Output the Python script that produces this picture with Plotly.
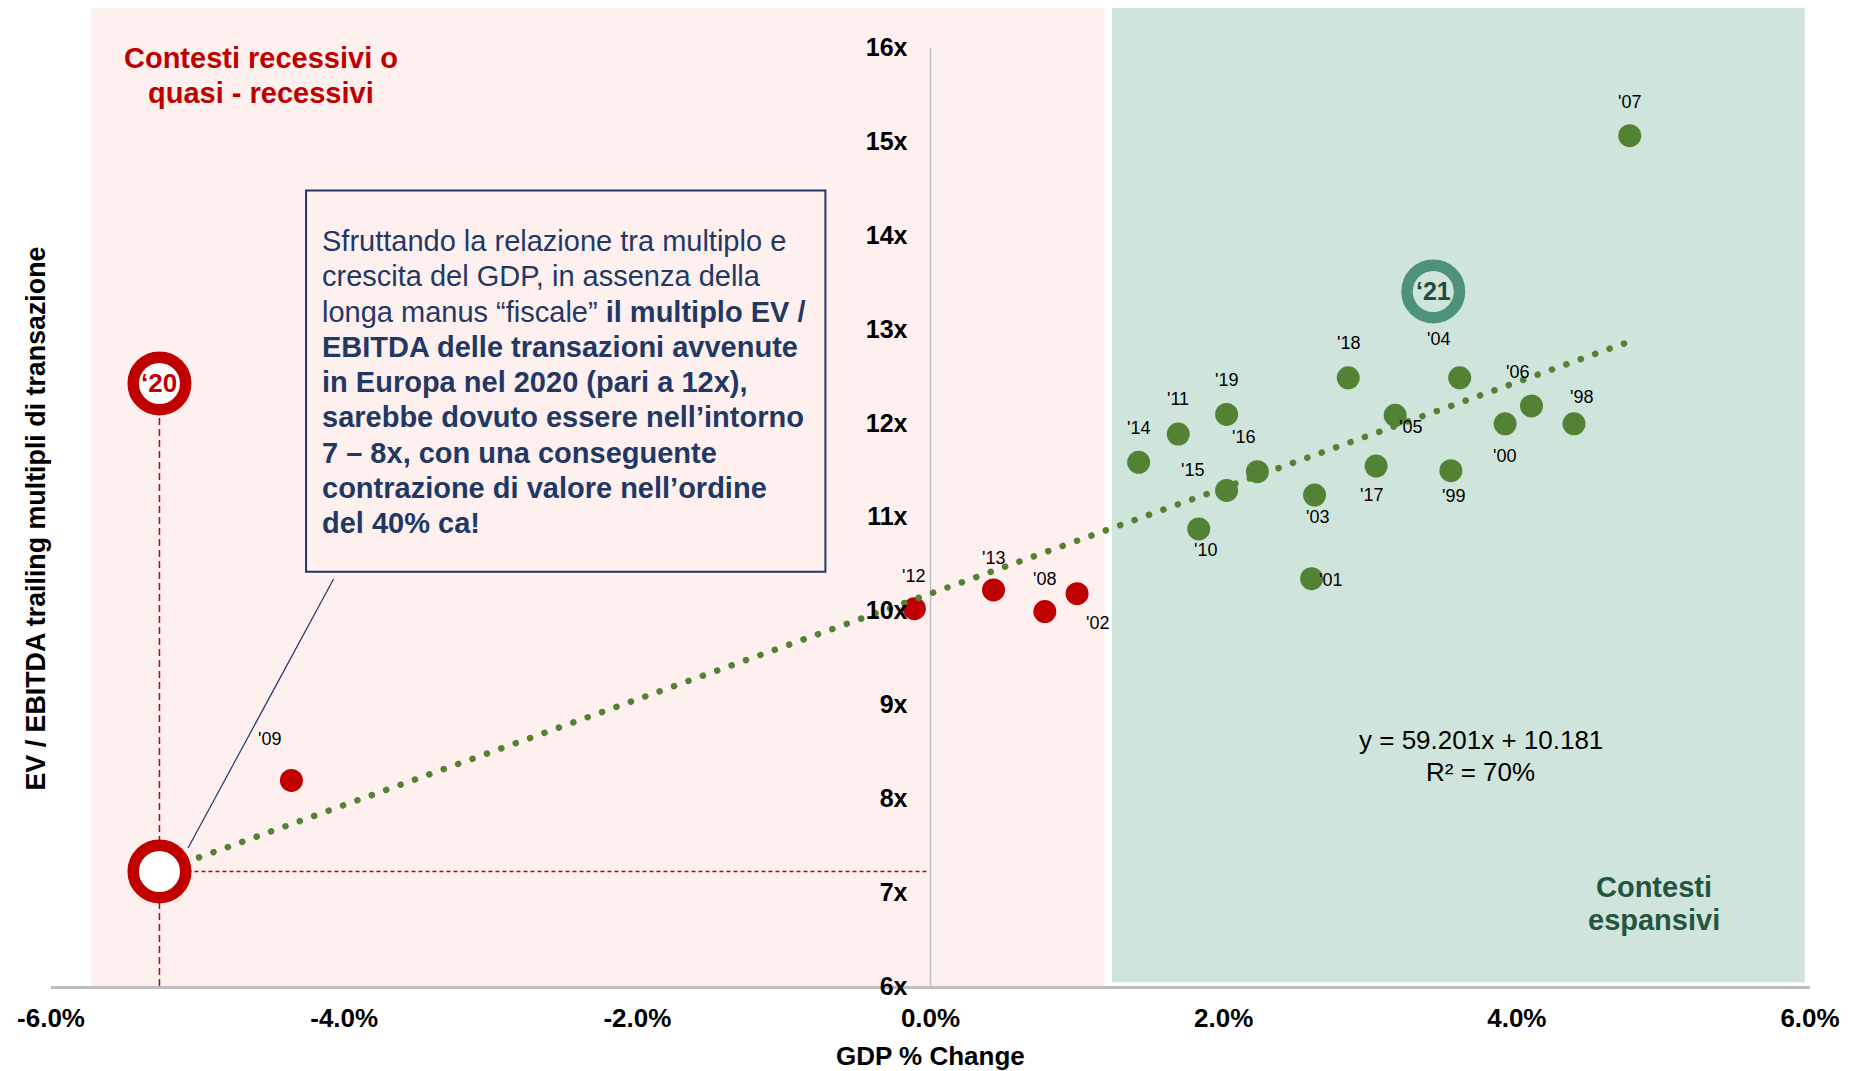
import plotly.graph_objects as go

# ---------------- DATA ----------------
red_years = ["'09", "'12", "'13", "'08", "'02"]
red_gdp = [-4.36, -0.11, 0.43, 0.78, 1.00]
red_mult = [8.19, 10.02, 10.22, 9.99, 10.18]

green_years = ["'14", "'11", "'19", "'15", "'16", "'10", "'18", "'03", "'01",
               "'17", "'05", "'04", "'99", "'00", "'06", "'98", "'07"]
green_gdp = [1.42, 1.69, 2.02, 2.02, 2.23, 1.83, 2.85, 2.62, 2.60,
             3.04, 3.17, 3.61, 3.55, 3.92, 4.10, 4.39, 4.77]
green_mult = [11.58, 11.88, 12.09, 11.28, 11.48, 10.87, 12.48, 11.23, 10.34,
              11.54, 12.08, 12.48, 11.49, 11.99, 12.18, 11.99, 15.06]

y2020_gdp = [-5.26]
y2020_actual = [12.42]
y2020_implied = [7.22]
y2021_gdp = [3.43]
y2021_mult = [13.40]

trend_gdp = [-4.99, 4.74]
trend_mult = [7.37, 12.85]

x_tickvals = [-6, -4, -2, 0, 2, 4, 6]
x_ticktext = ["-6.0%", "-4.0%", "-2.0%", "0.0%", "2.0%", "4.0%", "6.0%"]
y_tickvals = [6, 7, 8, 9, 10, 11, 12, 13, 14, 15, 16]
y_ticktext = ["6x", "7x", "8x", "9x", "10x", "11x", "12x", "13x", "14x", "15x", "16x"]

equation_lines = ["y = 59.201x + 10.181", "R² = 70%"]
box_lines = [
    "Sfruttando la relazione tra multiplo e",
    "crescita del GDP, in assenza della",
    "longa manus “fiscale” <b>il multiplo EV /</b>",
    "<b>EBITDA delle transazioni avvenute</b>",
    "<b>in Europa nel 2020 (pari a 12x),</b>",
    "<b>sarebbe dovuto essere nell’intorno</b>",
    "<b>7 – 8x, con una conseguente</b>",
    "<b>contrazione di valore nell’ordine</b>",
    "<b>del 40% ca!</b>",
]

# ---------------- STYLE ----------------
FONT = "Liberation Sans, Arial, sans-serif"
RED = "#C00000"
GREEN = "#548235"
TEAL = "#4E9279"
NAVY = "#1F3864"
PINK_BG = "#FFF0F0"
GREEN_BG = "#CFE5DC"
AXIS_GRAY = "#BFBFBF"

# label offsets in px (dx right, dy down)
label_offsets = {
    "'14": (0, -34), "'11": (0, -35), "'19": (0, -34), "'15": (-34, -20),
    "'16": (-14, -35), "'10": (7, 21), "'18": (0, -35), "'03": (3, 22),
    "'01": (19, 1), "'17": (-5, 29), "'05": (15, 12), "'04": (-21, -39),
    "'99": (3, 25), "'00": (-1, 32), "'06": (-14, -34), "'98": (7, -27),
    "'07": (0, -34),
    "'09": (-22, -41), "'12": (-1, -33), "'13": (0, -32), "'08": (0, -33),
    "'02": (20, 29),
}

Y0, Y1 = 6, 16.42
PX_PER_Y = 93.86
PLOT_BOTTOM = 986


def ypx(p):
    return Y0 + (PLOT_BOTTOM - p) / PX_PER_Y


def xpx(p):
    return (p - 930.5) / 146.6


fig = go.Figure()

# points
fig.add_trace(go.Scatter(x=red_gdp, y=red_mult, mode="markers",
                         marker=dict(size=23, color=RED, line=dict(width=0)),
                         hoverinfo="skip", showlegend=False))
fig.add_trace(go.Scatter(x=green_gdp, y=green_mult, mode="markers",
                         marker=dict(size=23, color=GREEN, line=dict(width=0)),
                         hoverinfo="skip", showlegend=False))
# 2020 circles
fig.add_trace(go.Scatter(x=y2020_gdp, y=y2020_actual, mode="markers",
                         marker=dict(size=52.5, color="white", line=dict(width=11.5, color=RED)),
                         hoverinfo="skip", showlegend=False))
fig.add_trace(go.Scatter(x=y2020_gdp, y=y2020_implied, mode="markers",
                         marker=dict(size=52.5, color="white", line=dict(width=11.5, color=RED)),
                         hoverinfo="skip", showlegend=False))
# 2021 circle
fig.add_trace(go.Scatter(x=y2021_gdp, y=y2021_mult, mode="markers",
                         marker=dict(size=52.5, color=GREEN_BG, line=dict(width=11.5, color=TEAL)),
                         hoverinfo="skip", showlegend=False))
# trendline (dotted)
fig.add_trace(go.Scatter(x=trend_gdp, y=trend_mult, mode="lines",
                         line=dict(color=GREEN, width=6.5, dash="6px,9px"),
                         hoverinfo="skip", showlegend=False))

shapes = [
    dict(type="rect", xref="x", yref="y", x0=-5.727, x1=1.187, y0=6.0, y1=Y1,
         fillcolor=PINK_BG, line=dict(width=0), layer="below"),
    dict(type="rect", xref="x", yref="y", x0=1.238, x1=5.965, y0=6.04, y1=Y1,
         fillcolor=GREEN_BG, line=dict(width=0), layer="below"),
    # vertical axis line at 0
    dict(type="line", xref="x", yref="y", x0=0, x1=0, y0=6, y1=16,
         line=dict(color=AXIS_GRAY, width=1.5), layer="below"),
    # dashed guides for 2020
    dict(type="line", xref="x", yref="y", x0=y2020_gdp[0], x1=y2020_gdp[0],
         y0=6, y1=y2020_actual[0], line=dict(color=RED, width=1.5, dash="7px,4px"), layer="below"),
    dict(type="line", xref="x", yref="y", x0=y2020_gdp[0], x1=-0.02,
         y0=y2020_implied[0], y1=y2020_implied[0],
         line=dict(color=RED, width=1.5, dash="4px,3px"), layer="below"),
    # text box
    dict(type="rect", xref="x", yref="y", x0=xpx(306), x1=xpx(825.4), y0=ypx(571.8), y1=ypx(190.5),
         fillcolor=PINK_BG, line=dict(color=NAVY, width=2), layer="below"),
    # connector
    dict(type="line", xref="x", yref="y", x0=xpx(333.5), y0=ypx(579), x1=xpx(188), y1=ypx(848),
         line=dict(color=NAVY, width=1.2), layer="below"),
]

annotations = []
for yrs, xs, ys in [(red_years, red_gdp, red_mult), (green_years, green_gdp, green_mult)]:
    for t, xv, yv in zip(yrs, xs, ys):
        dx, dy = label_offsets[t]
        annotations.append(dict(x=xv, y=yv, xref="x", yref="y", text=t, showarrow=False,
                                xshift=dx, yshift=-dy, xanchor="center", yanchor="middle",
                                font=dict(family=FONT, size=18, color="black")))

annotations.append(dict(x=y2020_gdp[0], y=y2020_actual[0], text="<b>‘20</b>", showarrow=False,
                        font=dict(family=FONT, size=26, color=RED), xanchor="center", yanchor="middle"))
annotations.append(dict(x=y2021_gdp[0], y=y2021_mult[0], text="<b>‘21</b>", showarrow=False,
                        font=dict(family=FONT, size=25, color="#1E4D3A"), xanchor="center", yanchor="middle"))

# text box lines
for i, line in enumerate(box_lines):
    annotations.append(dict(x=xpx(320), y=ypx(241 + 35.25 * i), text=line, showarrow=False,
                            xanchor="left", yanchor="middle",
                            font=dict(family=FONT, size=29, color=NAVY)))

# region labels
for i, line in enumerate(["Contesti recessivi o", "quasi - recessivi"]):
    annotations.append(dict(x=xpx(260.6), y=ypx(57.8 + 35.3 * i), text="<b>" + line + "</b>",
                            showarrow=False, xanchor="center", yanchor="middle",
                            font=dict(family=FONT, size=29, color=RED)))
for i, line in enumerate(["Contesti", "espansivi"]):
    annotations.append(dict(x=xpx(1654.5), y=ypx(887 + 33 * i), text="<b>" + line + "</b>",
                            showarrow=False, xanchor="center", yanchor="middle",
                            font=dict(family=FONT, size=29, color="#23553F")))
for i, line in enumerate(equation_lines):
    annotations.append(dict(x=xpx(1481), y=ypx(740 + 32 * i), text=line,
                            showarrow=False, xanchor="center", yanchor="middle",
                            font=dict(family=FONT, size=26, color="black")))

# axis titles
annotations.append(dict(x=0, xref="x", y=(PLOT_BOTTOM - 1056) / 978, yref="paper",
                        text="<b>GDP % Change</b>", showarrow=False, xanchor="center", yanchor="middle",
                        font=dict(family=FONT, size=26, color="black")))
annotations.append(dict(x=(35.5 - 51) / 1759, xref="paper", y=(PLOT_BOTTOM - 519) / 978, yref="paper",
                        text="<b>EV / EBITDA trailing multipli di transazione</b>", showarrow=False,
                        textangle=-90, xanchor="center", yanchor="middle",
                        font=dict(family=FONT, size=26.8, color="black")))

fig.update_layout(
    width=1849, height=1071,
    margin=dict(l=51, r=39, t=8, b=85),
    paper_bgcolor="white", plot_bgcolor="white",
    showlegend=False,
    shapes=shapes,
    annotations=annotations,
    xaxis=dict(range=[-6, 6], tickvals=x_tickvals, ticktext=x_ticktext,
               showgrid=False, zeroline=False, showline=True, linecolor=AXIS_GRAY, linewidth=2.5,
               ticks="", ticklabelstandoff=7,
               tickfont=dict(family=FONT, size=26, color="black", weight="bold")),
    yaxis=dict(range=[Y0, Y1], tickvals=y_tickvals, ticktext=y_ticktext,
               anchor="free", position=0.5, showgrid=False, zeroline=False, showline=False,
               ticks="", ticklabelstandoff=23,
               tickfont=dict(family=FONT, size=25, color="black", weight="bold")),
)

# round the dots of the dotted trendline (last scatter trace)
post = """
var gd = document.querySelector('.plotly-graph-div');
function roundDots(){
  var traces = gd.querySelectorAll('.scatterlayer .trace');
  if (!traces.length) return;
  var p = traces[traces.length-1].querySelector('path.js-line');
  if (p) { p.style.strokeLinecap = 'round'; p.style.strokeDasharray = '0.1px,15.2px'; }
}
roundDots();
if (gd.on) { gd.on('plotly_afterplot', roundDots); }
"""

fig.write_html("out.html", post_script=post)
